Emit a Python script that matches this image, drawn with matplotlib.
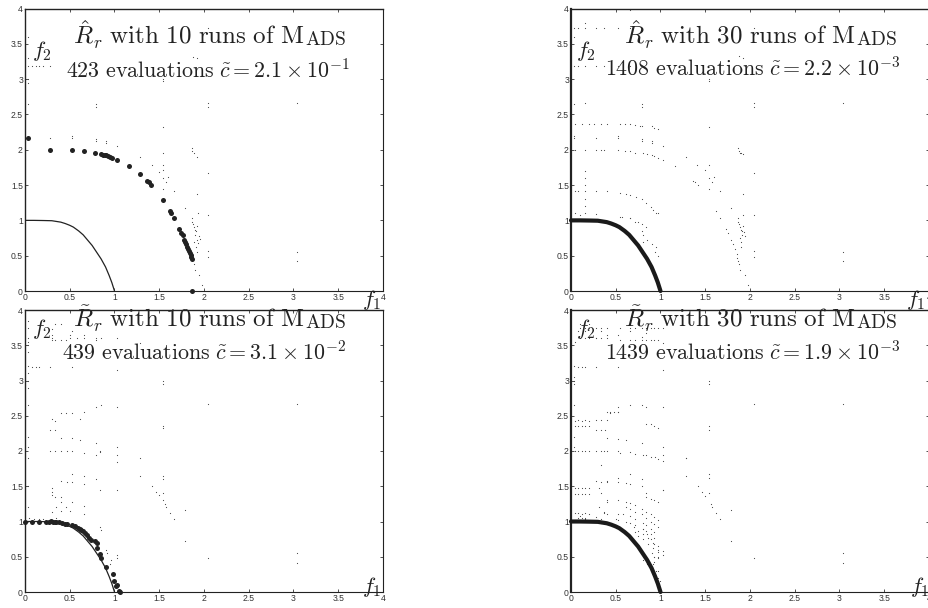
import matplotlib
matplotlib.use("Agg")
import matplotlib.pyplot as plt

plt.rcParams['font.family'] = ['Liberation Sans', 'DejaVu Sans']
plt.rcParams['mathtext.fontset'] = 'cm'

W, H = 929, 608
tick_vals = [0, 0.5, 1, 1.5, 2, 2.5, 3, 3.5, 4]
tick_labels = ['0', '0.5', '1', '1.5', '2', '2.5', '3', '3.5', '4']

front_f1 = [0, .1, .2, .3, .35, .4, .45, .5, .54, .6, .65, .7, .75, .8, .85, .9, .94, .97, 1.0]
front_f2 = [1, 1, .998, .995, .985, .975, .955, .93, .905, .85, .795, .72, .645, .55, .455, .34, .22, .12, 0]

big1_f1 = [.03, .28, .53, .66, .78, .85, .87, .89, .91, .93, .95, .97, 1.03, 1.16, 1.29, 1.365, 1.38, 1.41, 1.54,
           1.62, 1.63, 1.66, 1.72, 1.745, 1.76, 1.78, 1.79, 1.80, 1.81, 1.82, 1.83, 1.84, 1.85, 1.86, 1.87, 1.87]
big1_f2 = [2.17, 2.0, 1.99, 1.98, 1.95, 1.94, 1.93, 1.93, 1.92, 1.91, 1.90, 1.89, 1.86, 1.77, 1.65, 1.56, 1.54, 1.50, 1.29,
           1.13, 1.11, 1.04, .88, .82, .80, .72, .69, .66, .63, .60, .57, .54, .51, .48, .45, 0]

big3_f1 = [0, .08, .16, .23, .27, .29, .31, .33, .35, .38, .41, .45, .47, .53, .56, .59, .61, .63, .65, .67, .69, .72,
           .74, .78, .8, .81, .84, .85, .9, .98, 1.0, 1.02, 1.03, 1.05, 1.06]
big3_f2 = [1, 1, 1, 1, 1, 1.01, 1.0, 1.0, .99, .99, .98, .97, .96, .95, .93, .91, .89, .88, .86, .84, .81, .77,
           .74, .72, .69, .62, .54, .48, .35, .25, .15, .08, .1, .02, 0]

sp1_f1 = [.03, .03, .03, .03, .03, .03, .08, .12, .16, .2, .28, 1.88, 1.92, 1.54, 1.54, .79, .79, 2.04, 2.04, 3.04, 2.04,
          .28, .53, .53, .79, .79, .91, .91, 1.03, 1.29, 1.54, 1.54, 1.42, 1.54, 1.54, 1.5, 1.54, 1.58, 1.54, 1.6,
          1.87, 1.87, 1.89, 1.92, 2.04, 1.92, 2.04, 1.67, 1.79, 3.04, 3.04, 2.04, 2.04,
          1.87, 1.87, 1.88, 1.89, 1.9, 1.91, 1.92, 1.93, 1.9, 1.94, 1.92, 1.93, 1.91, 1.95, 1.89, 1.92,
          1.89, 1.9, 1.94, 1.98]
sp1_f2 = [3.6, 3.3, 3.19, 3.0, 2.95, 2.65, 3.19, 3.19, 3.19, 3.19, 3.19, 3.32, 3.3, 3.0, 2.97, 2.65, 2.6, 2.66, 2.6, 2.66, 3.73,
          2.17, 2.17, 2.2, 2.15, 2.12, 2.13, 2.1, 2.06, 1.9, 2.32, 1.96, 1.78, 1.78, 1.72, 1.68, 1.6, 1.55, 1.45, 1.62,
          2.03, 1.98, 1.95, 1.9, 1.67, 1.37, 1.08, 1.42, 1.17, .55, .43, .57, .48,
          1.03, .98, .95, .9, .87, .85, .92, 1.1, .8, .78, .72, .68, .62, .74, .7, .55,
          .38, .3, .22, .08]

sp2_f1 = [.03, .08, .16, .28, .37, .53, .66, .03, .16, .03, .08, .16, .28, .37, .53, .66, 1.88, 1.92, 1.54, 1.54,
          .03, .16, .79, .79, 2.04, 2.04, 3.04, 2.04, .66,
          .04, .12, .2, .26, .33, .4, .55, .6, .66, .71, .77, .79, .9, .93, .97,
          .03, .03, .28, .53, .53, .79, .79, .91, .91, 1.03,
          .04, .16, .28, .33, .37, .53, .6, .66, .72, .8, .85, .9, .93, .97, 1.03,
          1.16, 1.29, 1.41, 1.36, 1.38, 1.42, 1.5, 1.54, 1.54, 1.54, 1.58, 1.6, 1.54, 1.67, 1.62, 1.66, 1.79,
          .16, .16, .16, .16, .16,
          .04, .08, .16, .28, .4, .55, .62, .66, .73, .79, .84, .89, .92, .95, .97,
          .04, .1, .16, .28, .55, .66, .75, .79, .84, .95, .97, .8, .85, .9, .94,
          1.87, 1.88, 1.89, 1.9, 1.92, 1.92, 2.04, 1.92, 2.04, 3.04, 3.04, 2.04, 2.04,
          1.87, 1.87, 1.88, 1.89, 1.9, 1.91, 1.92, 1.93, 1.91, 1.94, 1.9, 1.89,
          1.73, 1.75, 1.79, 1.81, 1.83, 1.85, 1.86, 1.87, 1.88, 1.89, 1.9, 1.94, 1.98, .57, .66, .71, .79, .8]
sp2_f2 = [3.73, 3.73, 3.73, 3.73, 3.73, 3.73, 3.73, 3.6, 3.8, 3.19, 3.19, 3.19, 3.19, 3.19, 3.19, 3.19, 3.33, 3.3, 3.0, 2.97,
          2.65, 2.66, 2.65, 2.6, 2.66, 2.6, 2.66, 3.73, 3.98,
          2.37, 2.37, 2.37, 2.37, 2.37, 2.37, 2.36, 2.36, 2.36, 2.35, 2.34, 2.33, 2.33, 2.31, 2.29,
          2.17, 2.2, 2.17, 2.17, 2.2, 2.15, 2.12, 2.13, 2.1, 2.06,
          2.0, 2.0, 2.0, 2.0, 2.0, 1.99, 1.98, 1.98, 1.96, 1.95, 1.94, 1.92, 1.91, 1.89, 1.86,
          1.77, 1.9, 1.78, 1.56, 1.54, 1.5, 1.72, 2.32, 1.78, 1.6, 1.55, 1.62, 1.45, 1.42, 1.13, 1.04, 1.17,
          1.7, 1.6, 1.5, 1.3, 1.2,
          1.42, 1.42, 1.42, 1.42, 1.41, 1.39, 1.37, 1.36, 1.33, 1.3, 1.24, 1.19, 1.15, 1.11, 1.1,
          1.1, 1.08, 1.1, 1.09, 1.05, 1.03, .97, .95, .9, .62, .5, .8, .72, .67, .55,
          2.03, 1.98, 1.95, 1.96, 1.94, 1.37, 1.67, 1.08, 1.08, .55, .43, .57, .48,
          1.03, .98, .95, .9, .87, .85, .92, .83, .8, .78, .7, .75,
          .88, .82, .72, .66, .6, .52, .47, .43, .38, .3, .62, .22, .08, 1.05, 1.03, .97, .85, .7]

sp3_f1 = [.03, .03, .03, .03, .03, .03, .03, .03, .03, .08, .12, .16, .28, .53, .03, .03, .03,
          .03, .03, .03, .03, .3, .3, .3, .3, .33, .4, .46, .5, .66, .79, .85, 1.03, 1.29, .33, .4, .5, .53, .58, .66, .79,
          .3, .33, .4, .46, .53, .66, .79, .85, 1.03, 1.54, 1.54, 2.04, 3.04,
          .28, .33, .4, .53, .62, .62, .79, .84, .28, .34, .4, .47, .53, .66, .79, .84,
          1.03, 1.03, 1.03, 1.29, .3, .3, .33, .4, .47, .53, .66, .79, .84, 1.29, 1.42, 1.54, 1.54, 1.54, 1.03,
          .3, .35, .4, .46, .53, .66, .35, .4, .5, .66, .3, .4, .53, .66, .84, .85,
          1.46, 1.5, 1.54, 1.56, 1.58, 1.62, 1.66, 1.79, 1.79, 2.04, 3.04, 3.04, 1.03, 1.03, .96, .92,
          .04, .1, .16, .2, 1.54, 1.54, 1.03, .9, .95]
sp3_f2 = [3.6, 3.4, 3.2, 3.1, 3.0, 2.9, 2.65, 2.2, 2.05, 3.19, 3.19, 3.19, 3.19, 3.19, 1.9, 1.5, 1.2,
          3.75, 3.85, 3.55, 3.5, 3.73, 3.65, 3.6, 3.58, 3.58, 3.58, 3.58, 3.6, 3.6, 3.6, 3.6, 3.6, 3.53, 3.8, 3.8, 3.65, 3.7, 3.6, 3.65, 3.58,
          2.45, 2.42, 2.54, 2.54, 2.54, 2.55, 2.62, 2.65, 2.62, 3.0, 2.95, 2.66, 2.66,
          2.3, 2.3, 2.18, 2.18, 2.15, 2.45, 2.12, 2.0, 2.0, 2.0, 2.0, 2.0, 2.0, 1.97, 1.95, 1.98,
          2.05, 1.95, 1.85, 1.9, 1.47, 1.37, 1.35, 1.57, 1.56, 1.56, 1.53, 1.6, 1.45, 1.65, 1.5, 1.65, 1.6, 2.35, 1.45,
          1.13, 1.2, 1.27, 1.2, 1.27, 1.22, 1.05, 1.15, 1.15, 1.1, 1.42, 1.35, 1.68, 1.65, .92, .88,
          1.42, 1.38, 1.3, 1.25, 1.2, 1.12, 1.04, 1.17, .72, .48, .55, .41, .52, .48, .45, .55,
          1.05, 1.04, 1.04, 1.03, 2.32, 1.4, 3.15, .6, .4]

sp4_f1 = [.03, .03, .03, .03, .03, .03, .03, .08, .12, .16, .28, .53, 1.03, 1.54, 1.54, 1.54, 1.54, 2.04, 3.04, 3.04, 3.04, 2.04, 1.79, 1.79,
          .1, .16, .2, .28, .33, .4, .55, .66, .71, .79, .84, .89, .93, .97, 1.03,
          .1, .16, .2, .28, .33, .4, .55, .66, .71, .79, .84, .89, .93, .97, 1.03,
          .04, .08, .12, .16, .2, .28, .33, .4, .44, .53, .53, .04, .08, .12, .16, .2, .28, .33, .38,
          .4, .44, .48, .53, .66, .79, .84, .4, .53, .62, .79, .84, .89, .93, .97,
          .04, .08, .12, .16, .2, .28, .33, .37, .4, .53, .55, .66, .72, .8, .84, .89, .94, .97, 1.03, 1.03, 1.03, 1.03, 1.29,
          .04, .08, .12, .16, .2, .04, .08, .12, .16, .2, .31, .33, .4, .28, .33, .4, .53, .62, .66, .79, .84, .89, .93, .97, 1.03,
          .4, .53, .62, .66, .71, .79, .84, .89, .93, .97, .62, .66, .71, .79, .84, .89, .93, .97,
          .04, .08, .12, .16, .2, .08, .12, .16, .31, .37, .4, .53, .58, .66, .71, .8, .84, .89, .93, .62, .66, .71, .8, .84, .89, .93,
          .7, .75, .8, .86, .92, .97, 1.03, .71, .75, .8, .86, .92, .97, .8, .85, .89, .93, .97, .9, .93, .97, .92, .95, .97,
          1.29, 1.29, 1.42, 1.46, 1.5, 1.54, 1.54, 1.54, 1.56, 1.58, 1.62, 1.66, 1.03, .93, .97, .8, .85, .89, .93, 1.03, .97, .99,
          .04, .08, .1, .16, .2, .28, .33, .4, .53, .66, .79, .84,
          .04, .1, .16, .28, .33, .37, .5, .53, .4, .66, .79, .84, .33, .53, .33, .4]
sp4_f2 = [3.2, 3.05, 3.0, 2.95, 2.65, 2.2, 2.05, 3.19, 3.19, 3.19, 3.19, 3.19, 3.15, 3.0, 2.95, 2.35, 2.3, 2.66, 2.66, .55, .41, .48, 1.17, .72,
          3.75, 3.75, 3.75, 3.75, 3.75, 3.75, 3.75, 3.75, 3.75, 3.75, 3.75, 3.75, 3.75, 3.75, 3.75,
          3.6, 3.6, 3.6, 3.6, 3.6, 3.6, 3.58, 3.58, 3.58, 3.58, 3.58, 3.58, 3.57, 3.57, 3.53,
          2.42, 2.44, 2.42, 2.44, 2.42, 2.44, 2.44, 2.44, 2.54, 2.55, 2.62, 2.36, 2.36, 2.36, 2.36, 2.36, 2.3, 2.3, 2.3,
          2.55, 2.55, 2.55, 2.55, 2.65, 2.65, 2.62, 2.18, 2.17, 2.15, 2.12, 2.38, 2.38, 2.36, 2.33,
          2.0, 2.0, 2.0, 2.0, 2.0, 2.0, 2.0, 2.0, 2.0, 2.0, 1.97, 1.98, 1.96, 1.95, 1.94, 1.92, 1.91, 1.89, 1.86, 2.05, 1.95, 2.62, 1.9,
          1.48, 1.48, 1.48, 1.48, 1.48, 1.39, 1.39, 1.39, 1.39, 1.39, 1.47, 1.4, 1.57, 1.57, 1.56, 1.56, 1.56, 1.55, 1.53, 1.6, 1.35, 1.32, 1.3, 1.27, 1.45,
          1.3, 1.3, 1.28, 1.26, 1.23, 1.18, 1.14, 1.1, 1.06, 1.02, 1.2, 1.18, 1.13, 1.1, 1.05, 1.0, .96, .92,
          1.12, 1.12, 1.1, 1.12, 1.1, 1.05, 1.05, 1.05, 1.2, 1.13, 1.1, 1.1, 1.1, 1.08, 1.03, .98, .95, .9, .85, 1.0, .98, .95, .9, .86, .82, .77,
          .92, .87, .82, .76, .7, .65, .58, .85, .8, .75, .68, .62, .57, .9, .82, .75, .68, .6, .55, .5, .5, .4, .3, .2,
          1.9, 1.65, 1.5, 1.42, 1.36, 1.68, 1.62, 1.4, 1.25, 1.2, 1.12, 1.04, 1.45, .5, .48, .45, .4, .35, .42, .52, .3, .15,
          3.55, 3.7, 3.8, 3.7, 3.8, 3.6, 3.7, 3.65, 3.65, 3.7, 3.62, 3.68,
          1.02, 1.08, 1.04, 1.06, 1.03, 1.12, 1.03, 1.02, 1.28, 1.68, 1.5, 1.4, 1.8, 1.62, .98, .98]

panels = [
    dict(x0=25, y0=8.5, y1=291, lw=1.0, f1=(362, 306), f2=(32, 57)),
    dict(x0=571, y0=8.5, y1=291, lw=1.6, f1=(906, 306), f2=(576, 57)),
    dict(x0=25, y0=310, y1=592, lw=1.0, f1=(362, 593), f2=(32, 335)),
    dict(x0=571, y0=310, y1=592, lw=1.6, f1=(910, 593), f2=(576, 335)),
]

fig = plt.figure(figsize=(W / 100, H / 100), dpi=100, facecolor='white')


def make_axes(p):
    ax = fig.add_axes([p['x0'] / W, 1 - p['y1'] / H, 358 / W, (p['y1'] - p['y0']) / H])
    ax.set_xlim(0, 4)
    ax.set_ylim(0, 4)
    ax.set_xticks(tick_vals, tick_labels)
    ax.set_yticks(tick_vals, tick_labels)
    ax.tick_params(direction='in', length=2.2, width=0.6, labelsize=6.2, top=True, right=True, pad=1.5,
                   colors='#333333')
    for s in ax.spines.values():
        s.set_linewidth(0.8)
        s.set_color('#222222')
    ax.spines['left'].set_linewidth(p['lw'])
    ax.spines['top'].set_linewidth(1.0)
    return ax


def small(ax, xs, ys):
    ax.scatter(xs, ys, s=0.7, c='#444444', linewidths=0, clip_on=False, zorder=3)


def rich_text(pieces, cx, base):
    """Place text pieces in a row, centred on cx with baseline at base (pixels from the top)."""
    r = fig.canvas.get_renderer()
    arts = [fig.text(0, 1 - base / H, s, fontsize=fs, ha='left', va='baseline', color='#222222',
                     zorder=6) for s, fs in pieces]
    widths = [a.get_window_extent(r).width for a in arts]
    x = cx - sum(widths) / 2
    for a, w in zip(arts, widths):
        a.set_x(x / W)
        x += w + 0.5


def labels(ax, p):
    fx, fy = p['f1']
    ax.text(fx / W, 1 - fy / H, r'$f_1$', fontsize=16, transform=fig.transFigure, ha='left',
            va='baseline', clip_on=False, color='#222222', zorder=6)
    gx, gy = p['f2']
    fig.text(gx / W, 1 - gy / H, r'$f_2$', fontsize=16, ha='left', va='baseline', color='#222222', zorder=6)


ax1 = make_axes(panels[0])
ax1.plot(front_f1, front_f2, color='#222222', lw=0.9)
small(ax1, sp1_f1, sp1_f2)
ax1.scatter(big1_f1, big1_f2, s=13, c='#222222', linewidths=0, clip_on=False, zorder=4)
labels(ax1, panels[0])

ax2 = make_axes(panels[1])
small(ax2, sp2_f1, sp2_f2)
ax2.plot(front_f1, front_f2, color='#1a1a1a', lw=3.0, solid_capstyle='round', clip_on=False, zorder=4)
labels(ax2, panels[1])

ax3 = make_axes(panels[2])
ax3.plot(front_f1, front_f2, color='#222222', lw=0.9)
small(ax3, sp3_f1, sp3_f2)
ax3.scatter(big3_f1, big3_f2, s=13, c='#222222', linewidths=0, clip_on=False, zorder=4)
labels(ax3, panels[2])

ax4 = make_axes(panels[3])
small(ax4, sp4_f1, sp4_f2)
ax4.plot(front_f1, front_f2, color='#1a1a1a', lw=3.0, solid_capstyle='round', clip_on=False, zorder=4)
labels(ax4, panels[3])

fig.canvas.draw()
TS, SC, SS = 18, 14, 15.8
rich_text([(r'$\hat{R}_r\ \mathrm{with\ 10\ runs\ of\ M}$', TS), (r'$\mathrm{ADS}$', SC)], 209, 45)
rich_text([(r'$\mathrm{423\ evaluations}\ \tilde{c}=2.1\times10^{-1}$', SS)], 208, 77)
rich_text([(r'$\hat{R}_r\ \mathrm{with\ 30\ runs\ of\ M}$', TS), (r'$\mathrm{ADS}$', SC)], 760, 45)
rich_text([(r'$\mathrm{1408\ evaluations}\ \tilde{c}=2.2\times10^{-3}$', SS)], 753, 76)
rich_text([(r'$\tilde{R}_r\ \mathrm{with\ 10\ runs\ of\ M}$', TS), (r'$\mathrm{ADS}$', SC)], 209, 328)
rich_text([(r'$\mathrm{439\ evaluations}\ \tilde{c}=3.1\times10^{-2}$', SS)], 204, 360)
rich_text([(r'$\tilde{R}_r\ \mathrm{with\ 30\ runs\ of\ M}$', TS), (r'$\mathrm{ADS}$', SC)], 760, 328)
rich_text([(r'$\mathrm{1439\ evaluations}\ \tilde{c}=1.9\times10^{-3}$', SS)], 753, 360)

fig.savefig('out.png', dpi=100)
